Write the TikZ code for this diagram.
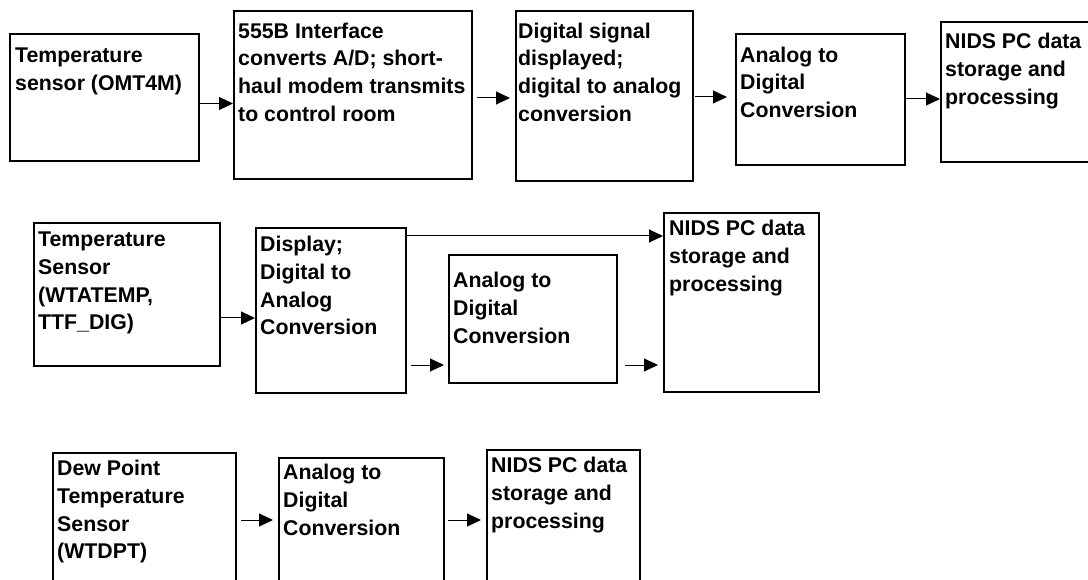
\documentclass[tikz,border=0pt]{standalone}
\usepackage{fontspec}
\setmainfont{Liberation Sans}
\usetikzlibrary{arrows.meta,calc}

\begin{document}
\begin{tikzpicture}[x=1pt,y=-1pt,
  box/.style={draw=black,line width=2pt,anchor=north west,inner sep=0pt},
  txt/.style={anchor=north west,inner sep=0pt,align=left,
              font=\fontsize{21.3}{27.7}\selectfont\bfseries},
  arr/.style={-{Triangle[length=14pt,width=13pt]},line width=1pt}]
\path[use as bounding box,clip] (0,0) rectangle (1088,580);
% first chain: OMT4M
\node[box,minimum width=189pt,minimum height=127pt] (sens1) at (9,33) {};
\node[box,minimum width=238pt,minimum height=168pt] (iface) at (233,10) {};
\node[box,minimum width=177pt,minimum height=170pt] (disp)  at (515,10) {};
\node[box,minimum width=169pt,minimum height=131pt] (adc1)  at (735,33) {};
\node[box,minimum width=200pt,minimum height=140pt] (nids1) at (940,21) {};
\node[txt] (sens1t) at ($(sens1.north west)+(6,15)$) {Temperature\\sensor (OMT4M)};
\node[txt] (ifacet) at ($(iface.north west)+(5,12.5)$)
  {555B Interface\\converts A/D; short-\\haul modem transmits\\to control room};
\node[txt] (dispt)  at ($(disp.north west)+(3,12.5)$)
  {Digital signal\\displayed;\\digital to analog\\conversion};
\node[txt] (adc1t)  at ($(adc1.north west)+(5,13.5)$) {Analog to\\Digital\\Conversion};
\node[txt] (nids1t) at ($(nids1.north west)+(5,12)$) {NIDS PC data\\storage and\\processing};
\draw[arr] (sens1.east |- 0,103.5) -- (iface.west |- 0,103.5);
\draw[arr,shorten <=4pt,shorten >=5pt] (iface.east |- 0,98) -- (disp.west |- 0,98);
\draw[arr,shorten <=1pt,shorten >=8pt] (disp.east |- 0,97) -- (adc1.west |- 0,97);
\draw[arr] (adc1.east |- 0,99) -- (nids1.west |- 0,99);
% second chain: WTATEMP, TTF_DIG
\node[box,minimum width=186pt,minimum height=143pt] (sens2) at (33,222) {};
\node[box,minimum width=150pt,minimum height=165pt] (disp2) at (255,227) {};
\node[box,minimum width=168pt,minimum height=128pt] (adc2)  at (448,254) {};
\node[box,minimum width=155pt,minimum height=179pt] (nids2) at (663,212) {};
\node[txt] (sens2t) at ($(sens2.north west)+(5,10)$)
  {Temperature\\Sensor\\(WTATEMP,\\TTF\_DIG)};
\node[txt] (disp2t) at ($(disp2.north west)+(5,9)$)
  {Display;\\Digital to\\Analog\\Conversion};
\node[txt] (adc2t)  at ($(adc2.north west)+(5,18)$) {Analog to\\Digital\\Conversion};
\node[txt] (nids2t) at ($(nids2.north west)+(6,8)$) {NIDS PC data\\storage and\\processing};
\draw[arr] (sens2.east |- 0,318) -- (disp2.west |- 0,318);
\draw[arr] (disp2.east |- 0,236) -- (nids2.west |- 0,236);
\draw[arr,shorten <=4pt,shorten >=4pt] (disp2.east |- 0,365) -- (adc2.west |- 0,365);
\draw[arr,shorten <=7pt,shorten >=5pt] (adc2.east |- 0,365) -- (nids2.west |- 0,365);
% third chain: WTDPT
\node[box,minimum width=183pt,minimum height=200pt] (sens3) at (52,452) {};
\node[box,minimum width=165pt,minimum height=200pt] (adc3)  at (278,457) {};
\node[box,minimum width=153pt,minimum height=200pt] (nids3) at (486,449) {};
\node[txt] (sens3t) at ($(sens3.north west)+(5,8)$)
  {Dew Point\\Temperature\\Sensor\\(WTDPT)};
\node[txt] (adc3t)  at ($(adc3.north west)+(5,7)$) {Analog to\\Digital\\Conversion};
\node[txt] (nids3t) at ($(nids3.north west)+(5,8)$) {NIDS PC data\\storage and\\processing};
\draw[arr,shorten <=4pt,shorten >=5pt] (sens3.east |- 0,520) -- (adc3.west |- 0,520);
\draw[arr,shorten <=3pt,shorten >=5pt] (adc3.east |- 0,520) -- (nids3.west |- 0,520);
\end{tikzpicture}
\end{document}
